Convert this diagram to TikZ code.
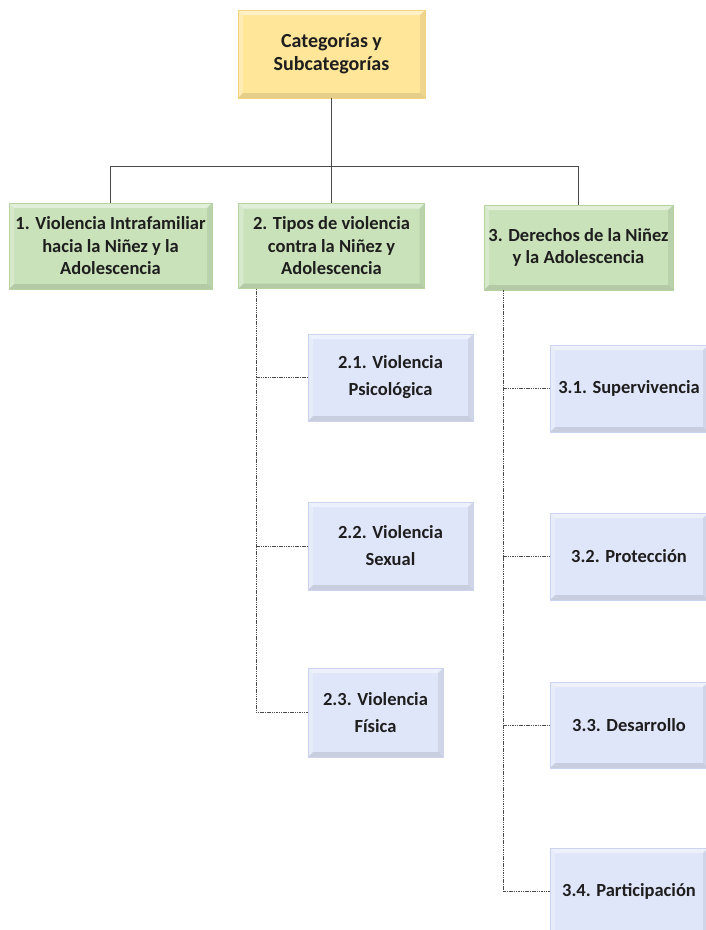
\documentclass[tikz,border=0pt]{standalone}
\usepackage{fontspec}
\setmainfont{Carlito}
\definecolor{ylw}{HTML}{FFE699}
\definecolor{ylwb}{HTML}{F3D47E}
\definecolor{grn}{HTML}{C9E2B9}
\definecolor{grnb}{HTML}{B5D3A0}
\definecolor{blu}{HTML}{E0E6F9}
\definecolor{blub}{HTML}{CBD3EE}
\definecolor{txt}{HTML}{1E1E1E}
\definecolor{lnc}{HTML}{4A4A4A}
\tikzset{
  bevel/.style={path picture={
    \path (path picture bounding box.north west) coordinate (pnw)
          (path picture bounding box.north east) coordinate (pne)
          (path picture bounding box.south east) coordinate (pse)
          (path picture bounding box.south west) coordinate (psw);
    \fill[white,opacity=.45] (pnw) -- (pne) -- ([shift={(-5pt,-5pt)}]pne) -- ([shift={(5pt,-5pt)}]pnw) -- cycle;
    \fill[white,opacity=.25] (pnw) -- (psw) -- ([shift={(5pt,5pt)}]psw) -- ([shift={(5pt,-5pt)}]pnw) -- cycle;
    \fill[black,opacity=.10] (psw) -- (pse) -- ([shift={(-5pt,5pt)}]pse) -- ([shift={(5pt,5pt)}]psw) -- cycle;
    \fill[black,opacity=.07] (pne) -- (pse) -- ([shift={(-5pt,5pt)}]pse) -- ([shift={(-5pt,-5pt)}]pne) -- cycle;
  }},
  box/.style={rectangle, inner sep=0pt, align=center, text=txt,
    font=\bfseries\fontsize{18.5}{22.5}\selectfont, bevel, line width=0.6pt},
  topbox/.style={box, fill=ylw, draw=ylwb, font=\bfseries\fontsize{20}{23}\selectfont},
  catbox/.style={box, fill=grn, draw=grnb},
  subbox/.style={box, fill=blu, draw=blub, font=\bfseries\fontsize{18.5}{27}\selectfont},
  conn/.style={draw=lnc, line width=0.9pt},
  dsh/.style={draw=lnc, line width=1pt, dash pattern=on 1.5pt off 0.8pt},
}
\begin{document}
\begin{tikzpicture}[x=1pt,y=-1pt]
\useasboundingbox (0,0) rectangle (706,930);
\clip (0,0) rectangle (706,930);
\fill[white] (0,0) rectangle (706,930);

\node[topbox, minimum width=187pt, minimum height=88pt] (top) at (331.5,54) {Categorías y\\Subcategorías};

\node[catbox, minimum width=203pt, minimum height=86pt] (b1) at (110.5,246) {1. Violencia Intrafamiliar\\hacia la Niñez y la\\Adolescencia};
\node[catbox, minimum width=186pt, minimum height=85pt] (b2) at (331.5,246) {2. Tipos de violencia\\contra la Niñez y\\Adolescencia};
\node[catbox, minimum width=189pt, minimum height=85pt] (b3) at (578.5,247.5) {3. Derechos de la Niñez\\y la Adolescencia};

\node[subbox, minimum width=165pt, minimum height=87pt] (c21) at (390.5,377.5) {2.1. Violencia\\Psicológica};
\node[subbox, minimum width=165pt, minimum height=88pt] (c22) at (390.5,546) {2.2. Violencia\\Sexual};
\node[subbox, minimum width=135pt, minimum height=89pt] (c23) at (375.5,712.5) {2.3. Violencia\\Física};

\node[subbox, minimum width=158pt, minimum height=87pt] (c31) at (629,388.5) {3.1. Supervivencia};
\node[subbox, minimum width=158pt, minimum height=87pt] (c32) at (629,556.5) {3.2. Protección};
\node[subbox, minimum width=158pt, minimum height=86pt] (c33) at (629,725) {3.3. Desarrollo};
\node[subbox, minimum width=158pt, minimum height=87pt] (c34) at (629,891.5) {3.4. Participación};

\coordinate (j) at (331.5,166);
\coordinate (s2) at (256,0);
\coordinate (s3) at (503,0);

\draw[conn] (top.south) -- (b2.north);
\draw[conn] (b1.north) -- (b1.north |- j) -- (b3.north |- j) -- (b3.north);

\draw[dsh] (b2.south -| s2) |- (c23.west);
\draw[dsh] (c21.west -| s2) -- (c21.west);
\draw[dsh] (c22.west -| s2) -- (c22.west);

\draw[dsh] (b3.south -| s3) |- (c34.west);
\draw[dsh] (c31.west -| s3) -- (c31.west);
\draw[dsh] (c32.west -| s3) -- (c32.west);
\draw[dsh] (c33.west -| s3) -- (c33.west);
\end{tikzpicture}
\end{document}
